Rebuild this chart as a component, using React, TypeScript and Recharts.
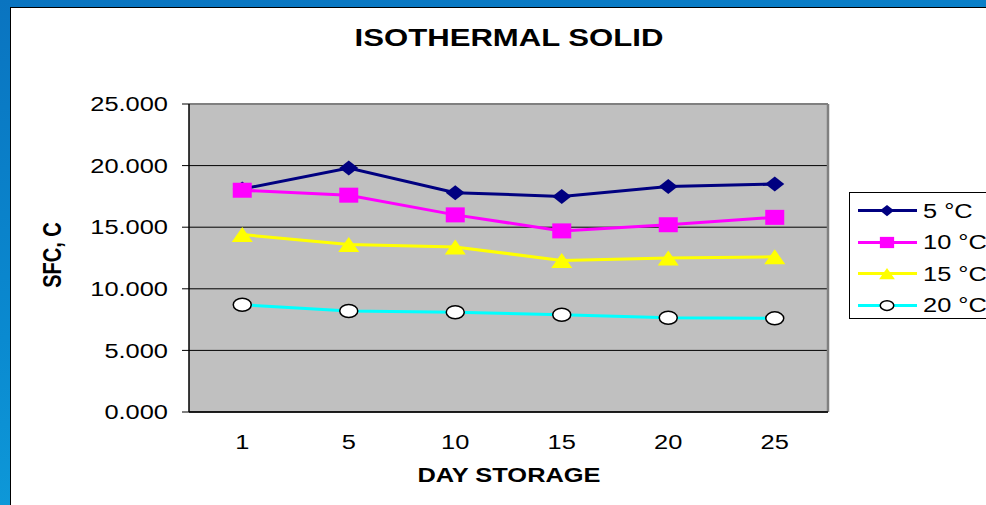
import React from 'react';
import { LineChart, Line, XAxis, YAxis, CartesianGrid, ReferenceLine } from 'recharts';

const days = ['1', '5', '10', '15', '20', '25'];
const t5 = [18.1, 19.8, 17.8, 17.5, 18.3, 18.5];
const t10 = [18.0, 17.6, 16.0, 14.7, 15.2, 15.8];
const t15 = [14.4, 13.6, 13.4, 12.3, 12.5, 12.6];
const t20 = [8.7, 8.2, 8.1, 7.9, 7.65, 7.6];
const yTicks = [0, 5, 10, 15, 20, 25];
const edgeTicks = [0, 1, 2, 3, 4, 5, 6];

const series = [
  { key: 't5', name: '5 °C', color: '#000080', shape: 'diamond' },
  { key: 't10', name: '10 °C', color: '#ff00ff', shape: 'square' },
  { key: 't15', name: '15 °C', color: '#ffff00', shape: 'triangle' },
  { key: 't20', name: '20 °C', color: '#00ffff', shape: 'circle' },
];

const data = days.map((day, i) => ({ day, t5: t5[i], t10: t10[i], t15: t15[i], t20: t20[i] }));

const FONT = '"Liberation Sans", Arial, sans-serif';
const SX = 1.27; // the slide is stretched sideways

const Marker = ({ cx, cy, shape, color, s = 1 }: any) => {
  if (cx == null || cy == null) return null;
  if (shape === 'diamond') {
    const w = 9.5 * s, h = 7.5 * s;
    return <polygon points={`${cx - w},${cy} ${cx},${cy - h} ${cx + w},${cy} ${cx},${cy + h}`} fill={color} />;
  }
  if (shape === 'square') {
    const w = 9.5 * s, h = 7.5 * s;
    return <rect x={cx - w} y={cy - h} width={w * 2} height={h * 2} fill={color} />;
  }
  if (shape === 'triangle') {
    const w = 10.5 * s, h = 7.5 * s;
    return <polygon points={`${cx - w},${cy + h} ${cx},${cy - h} ${cx + w},${cy + h}`} fill={color} />;
  }
  return <ellipse cx={cx} cy={cy} rx={9 * s} ry={6.5 * s} fill="#fff" stroke="#000" strokeWidth={1.5} />;
};

const YTick = ({ x, y, payload }: any) => (
  <g transform={`translate(${x},${y})`}>
    <text transform={`scale(${SX},1)`} textAnchor="end" dy="0.36em" fontSize={20} fontFamily={FONT} fill="#000">
      {Number(payload.value).toFixed(3)}
    </text>
  </g>
);

const XTick = ({ x, y, payload }: any) => (
  <g transform={`translate(${x},${y})`}>
    <text transform={`scale(${SX},1)`} textAnchor="middle" dy="0.71em" fontSize={20} fontFamily={FONT} fill="#000">
      {payload.value}
    </text>
  </g>
);

const NoLabel = () => <g />;

const stretched: React.CSSProperties = {
  position: 'absolute',
  fontFamily: FONT,
  color: '#000',
  whiteSpace: 'nowrap',
};

export default function App() {
  return (
    <div
      style={{
        position: 'fixed',
        left: 0,
        top: 0,
        width: 986,
        height: 505,
        overflow: 'hidden',
        background: 'linear-gradient(170deg, #0a74c0 0%, #0a8ad0 50%, #12a6e0 100%)',
      }}
    >
      <div
        style={{
          position: 'absolute',
          left: 10,
          top: 7,
          width: 1000,
          height: 520,
          background: '#fff',
          borderLeft: '1.5px solid #000',
          borderTop: '1.5px solid #000',
        }}
      />
      <div style={{ position: 'absolute', left: 0, top: 0 }}>
        <LineChart width={986} height={505} data={data} margin={{ top: 104, right: 158, bottom: 0, left: 0 }}>
          <CartesianGrid xAxisId="cat" vertical={false} fill="#c0c0c0" stroke="#000" strokeWidth={1} />
          <XAxis
            xAxisId="edge"
            type="number"
            dataKey="none"
            domain={[0, 6]}
            ticks={edgeTicks}
            allowDataOverflow
            height={0}
            tick={<NoLabel />}
            tickSize={6}
            axisLine={false}
            tickLine={{ stroke: '#000' }}
          />
          <XAxis
            xAxisId="cat"
            dataKey="day"
            scale="band"
            height={93}
            tickLine={false}
            tickSize={6}
            tickMargin={17}
            tick={<XTick />}
            axisLine={{ stroke: '#000', strokeWidth: 1.5 }}
          />
          <YAxis
            width={189}
            domain={[0, 25]}
            ticks={yTicks}
            tickSize={7}
            tickMargin={14}
            tick={<YTick />}
            tickLine={{ stroke: '#000' }}
            axisLine={{ stroke: '#000', strokeWidth: 1.5 }}
          />
          <ReferenceLine xAxisId="cat" y={25} stroke="#808080" strokeWidth={2} />
          <ReferenceLine xAxisId="edge" x={6} stroke="#808080" strokeWidth={2.5} />
          {series.map((s) => (
            <Line
              key={s.key}
              xAxisId="cat"
              dataKey={s.key}
              name={s.name}
              stroke={s.color}
              strokeWidth={3}
              isAnimationActive={false}
              dot={(p: any) => <Marker key={`${s.key}-${p.index}`} cx={p.cx} cy={p.cy} shape={s.shape} color={s.color} />}
              activeDot={false}
            />
          ))}
        </LineChart>
      </div>

      <div
        style={{
          ...stretched,
          left: 509,
          top: 38,
          fontSize: 24.5,
          fontWeight: 'bold',
          transform: `translate(-50%, -50%) scale(${SX},1)`,
        }}
      >
        ISOTHERMAL SOLID
      </div>
      <div
        style={{
          ...stretched,
          left: 509,
          top: 475,
          fontSize: 20,
          fontWeight: 'bold',
          transform: `translate(-50%, -50%) scale(${SX},1)`,
        }}
      >
        DAY STORAGE
      </div>
      <div
        style={{
          ...stretched,
          left: 53,
          top: 255,
          fontSize: 20,
          fontWeight: 'bold',
          transform: `translate(-50%, -50%) scale(${SX},1) rotate(-90deg)`,
        }}
      >
        SFC, C
      </div>

      <div
        style={{
          position: 'absolute',
          left: 849,
          top: 192,
          width: 170,
          height: 125,
          background: '#fff',
          border: '1px solid #000',
        }}
      >
        {series.map((s, i) => (
          <div key={s.key} style={{ position: 'absolute', left: 0, top: 2 + i * 31.5, height: 31, width: 170 }}>
            <svg width={70} height={31} style={{ position: 'absolute', left: 0, top: 0 }}>
              <line x1={8} x2={67} y1={15.5} y2={15.5} stroke={s.color} strokeWidth={3} />
              <Marker cx={37} cy={15.5} shape={s.shape} color={s.color} s={0.75} />
            </svg>
            <div
              style={{
                ...stretched,
                left: 73,
                top: 15.5,
                fontSize: 20,
                transformOrigin: 'left center',
                transform: `translateY(-50%) scale(${SX},1)`,
              }}
            >
              {s.name}
            </div>
          </div>
        ))}
      </div>
    </div>
  );
}
